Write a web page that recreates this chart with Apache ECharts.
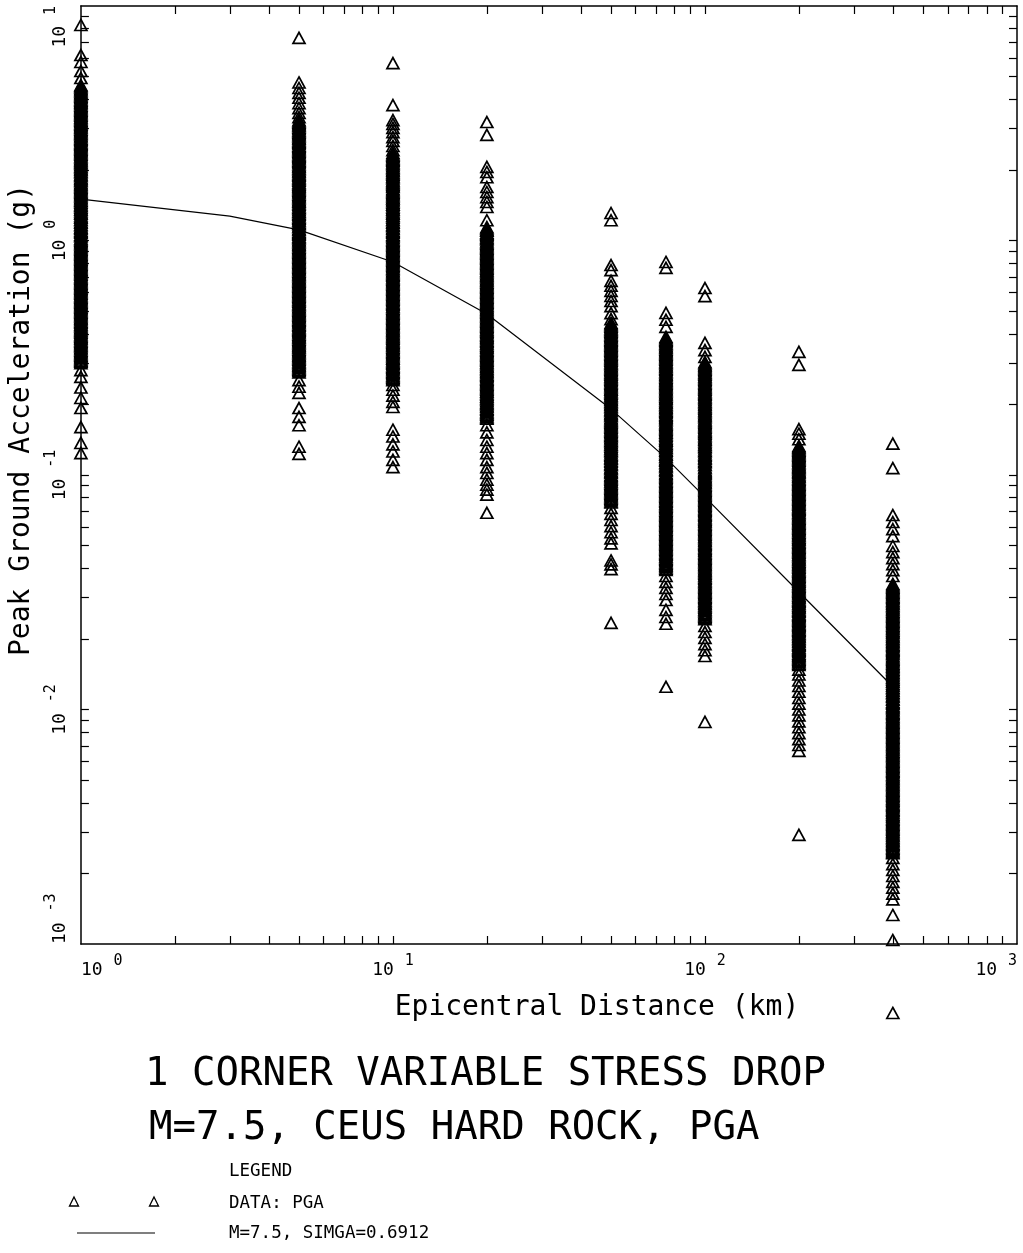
<!DOCTYPE html>
<html>
<head>
<meta charset="utf-8">
<script src="https://cdn.jsdelivr.net/npm/echarts@6/dist/echarts.min.js"></script>
<style>
  html, body { margin: 0; padding: 0; background: #fff; }
  #chart { width: 1023px; height: 1253px; }
</style>
</head>
<body>
<div id="chart"></div>
<script>
// Epicentral distances (km) of the simulated stations
const distances = [1, 5, 10, 20, 50, 75, 100, 200, 400];

// Simulated peak ground acceleration (g) at each distance
const pga1km = [8.30, 6.18, 5.77, 5.28, 4.93,
  4.60, 4.49, 4.38, 4.26, 4.16, 4.05, 3.95, 3.86, 3.76, 3.67, 3.58, 3.49, 3.41, 3.32, 3.24, 3.16, 3.08, 3.01, 2.93, 2.86,
  2.79, 2.72, 2.66, 2.59, 2.53, 2.47, 2.41, 2.35, 2.29, 2.23, 2.18, 2.13, 2.07, 2.02, 1.97, 1.92, 1.88, 1.83, 1.79, 1.74,
  1.70, 1.66, 1.62, 1.58, 1.54, 1.50, 1.47, 1.43, 1.40, 1.36, 1.33, 1.30, 1.26, 1.23, 1.20, 1.17, 1.14, 1.12, 1.09, 1.06,
  1.04, 1.01, 0.985, 0.961, 0.937, 0.914, 0.892, 0.870, 0.849, 0.828, 0.808, 0.788, 0.769, 0.750, 0.732, 0.714, 0.696,
  0.679, 0.663, 0.646, 0.631, 0.615, 0.600, 0.585, 0.571, 0.557, 0.543, 0.530, 0.517, 0.504, 0.492, 0.480, 0.468, 0.457,
  0.446, 0.435, 0.424, 0.414, 0.404, 0.394, 0.384, 0.375, 0.366, 0.357, 0.348, 0.339, 0.331, 0.323, 0.315, 0.307, 0.300,
  4.55, 4.43, 4.32, 4.21, 4.10, 4.00, 3.90, 3.81, 3.71, 3.62, 3.53, 3.45, 3.36, 3.28, 3.20, 3.12, 3.04, 2.97, 2.90, 2.83,
  2.76, 2.69, 2.62, 2.56, 2.50, 2.44, 2.38, 2.32, 2.26, 2.20, 2.15, 2.10, 2.05, 2.00, 1.95, 1.90, 1.85, 1.81, 1.76, 1.72,
  1.68, 1.64, 1.60, 1.56, 1.52, 1.48, 1.45, 1.41, 1.38, 1.35, 1.31, 1.28, 1.25, 1.22, 1.19, 1.16, 1.13, 1.10, 1.08, 1.05,
  1.02, 0.997, 0.973, 0.949, 0.926, 0.903, 0.881, 0.860, 0.839, 0.818, 0.798, 0.779, 0.760, 0.741, 0.723, 0.705, 0.688,
  0.671, 0.655, 0.639, 0.623, 0.608, 0.593, 0.578, 0.564, 0.550, 0.537, 0.524, 0.511, 0.498, 0.486, 0.474, 0.463, 0.451,
  0.440, 0.430, 0.419, 0.409, 0.399, 0.389, 0.380, 0.370, 0.361, 0.353, 0.344, 0.335, 0.327, 0.319, 0.311, 0.304,
  0.280, 0.262, 0.236, 0.213, 0.193, 0.160, 0.137, 0.124];

const pga5km = [7.31, 4.72, 4.47, 4.26, 4.06, 3.85, 3.67, 3.50, 3.36,
  3.26, 3.18, 3.10, 3.03, 2.95, 2.88, 2.81, 2.74, 2.67, 2.61, 2.54, 2.48, 2.42, 2.36, 2.30, 2.25, 2.19, 2.14, 2.08, 2.03,
  1.98, 1.93, 1.89, 1.84, 1.80, 1.75, 1.71, 1.67, 1.63, 1.59, 1.55, 1.51, 1.47, 1.44, 1.40, 1.37, 1.33, 1.30, 1.27, 1.24,
  1.21, 1.18, 1.15, 1.12, 1.09, 1.07, 1.04, 1.02, 0.993, 0.968, 0.945, 0.921, 0.899, 0.877, 0.855, 0.834, 0.814, 0.794,
  0.775, 0.756, 0.737, 0.719, 0.702, 0.684, 0.668, 0.651, 0.636, 0.620, 0.605, 0.590, 0.576, 0.561, 0.548, 0.534, 0.521,
  0.508, 0.496, 0.484, 0.472, 0.460, 0.449, 0.438, 0.427, 0.417, 0.407, 0.397, 0.387, 0.378, 0.368, 0.359, 0.351, 0.342,
  0.334, 0.325, 0.318, 0.310, 0.302, 0.295, 0.288, 0.281, 0.274,
  3.22, 3.14, 3.07, 2.99, 2.92, 2.85, 2.78, 2.71, 2.64, 2.58, 2.51, 2.45, 2.39, 2.33, 2.28, 2.22, 2.17, 2.11, 2.06, 2.01,
  1.96, 1.91, 1.86, 1.82, 1.77, 1.73, 1.69, 1.65, 1.61, 1.57, 1.53, 1.49, 1.46, 1.42, 1.38, 1.35, 1.32, 1.29, 1.25, 1.22,
  1.19, 1.17, 1.14, 1.11, 1.08, 1.06, 1.03, 1.005, 0.981, 0.957, 0.933, 0.910, 0.888, 0.866, 0.845, 0.824, 0.804, 0.785,
  0.765, 0.747, 0.728, 0.711, 0.693, 0.676, 0.660, 0.644, 0.628, 0.613, 0.598, 0.583, 0.569, 0.555, 0.541, 0.528, 0.515,
  0.502, 0.490, 0.478, 0.466, 0.455, 0.444, 0.433, 0.422, 0.412, 0.402, 0.392, 0.383, 0.373, 0.364, 0.355, 0.347, 0.338,
  0.330, 0.322, 0.314, 0.306, 0.299, 0.292, 0.285, 0.278,
  0.254, 0.238, 0.224, 0.193, 0.177, 0.163, 0.132, 0.123];

const pga10km = [5.71, 3.78, 3.26, 3.14, 3.02, 2.90, 2.76, 2.66, 2.53, 2.43,
  2.36, 2.30, 2.24, 2.19, 2.13, 2.08, 2.03, 1.98, 1.93, 1.88, 1.84, 1.79, 1.75, 1.71, 1.66, 1.62, 1.58, 1.54, 1.51, 1.47,
  1.43, 1.40, 1.36, 1.33, 1.30, 1.27, 1.23, 1.20, 1.17, 1.15, 1.12, 1.09, 1.06, 1.04, 1.01, 0.987, 0.963, 0.939, 0.916,
  0.894, 0.872, 0.851, 0.830, 0.810, 0.790, 0.771, 0.752, 0.733, 0.715, 0.698, 0.681, 0.664, 0.648, 0.632, 0.617, 0.602,
  0.587, 0.573, 0.559, 0.545, 0.532, 0.519, 0.506, 0.494, 0.482, 0.470, 0.458, 0.447, 0.436, 0.426, 0.415, 0.405, 0.395,
  0.386, 0.376, 0.367, 0.358, 0.349, 0.341, 0.332, 0.324, 0.316, 0.309, 0.301, 0.294, 0.287, 0.280, 0.273, 0.266, 0.260,
  2.33, 2.27, 2.21, 2.16, 2.11, 2.05, 2.00, 1.95, 1.91, 1.86, 1.81, 1.77, 1.73, 1.69, 1.64, 1.60, 1.56, 1.52, 1.49, 1.45,
  1.42, 1.38, 1.35, 1.31, 1.28, 1.25, 1.22, 1.19, 1.16, 1.13, 1.10, 1.08, 1.05, 1.025, 0.999, 0.975, 0.951, 0.928, 0.905,
  0.883, 0.861, 0.840, 0.820, 0.800, 0.780, 0.761, 0.742, 0.724, 0.707, 0.689, 0.672, 0.656, 0.640, 0.624, 0.609, 0.594,
  0.580, 0.566, 0.552, 0.538, 0.525, 0.512, 0.500, 0.488, 0.476, 0.464, 0.453, 0.442, 0.431, 0.420, 0.410, 0.400, 0.390,
  0.381, 0.371, 0.362, 0.354, 0.345, 0.336, 0.328, 0.320, 0.313, 0.305, 0.298, 0.290, 0.283, 0.276, 0.270, 0.263, 0.257,
  0.254, 0.242, 0.231, 0.218, 0.205, 0.195, 0.156, 0.146, 0.135, 0.126, 0.116, 0.108];

const pga20km = [3.20, 2.82, 2.06, 1.96, 1.86, 1.69, 1.61, 1.53, 1.46, 1.39, 1.22,
  1.14, 1.11, 1.08, 1.06, 1.03, 1.01, 0.982, 0.958, 0.935, 0.912, 0.890, 0.868, 0.847, 0.826, 0.806, 0.786, 0.767, 0.748,
  0.730, 0.712, 0.695, 0.678, 0.661, 0.645, 0.629, 0.614, 0.599, 0.584, 0.570, 0.556, 0.543, 0.529, 0.516, 0.504, 0.492,
  0.480, 0.468, 0.456, 0.445, 0.434, 0.424, 0.413, 0.403, 0.393, 0.384, 0.374, 0.365, 0.356, 0.348, 0.339, 0.331, 0.323,
  0.315, 0.307, 0.300, 0.292, 0.285, 0.278, 0.272, 0.265, 0.258, 0.252, 0.246, 0.240, 0.234, 0.228, 0.223, 0.217, 0.212,
  0.207, 0.202, 0.197, 0.192, 0.187, 0.183, 0.178, 0.174,
  1.125, 1.10, 1.07, 1.045, 1.02, 0.994, 0.970, 0.946, 0.923, 0.901, 0.879, 0.857, 0.836, 0.816, 0.796, 0.777, 0.758,
  0.739, 0.721, 0.704, 0.686, 0.670, 0.653, 0.637, 0.622, 0.606, 0.592, 0.577, 0.563, 0.550, 0.536, 0.523, 0.510, 0.498,
  0.486, 0.474, 0.462, 0.451, 0.440, 0.429, 0.418, 0.408, 0.398, 0.388, 0.379, 0.370, 0.361, 0.352, 0.343, 0.335, 0.327,
  0.319, 0.311, 0.303, 0.296, 0.289, 0.282, 0.275, 0.268, 0.262, 0.255, 0.249, 0.243, 0.237, 0.231, 0.226, 0.220, 0.215,
  0.210, 0.204, 0.200, 0.195, 0.190, 0.185, 0.181, 0.176,
  0.163, 0.152, 0.141, 0.132, 0.124, 0.116, 0.108, 0.102, 0.0955, 0.0909, 0.0866, 0.0825, 0.0690];

const pga50km = [1.31, 1.22, 0.786, 0.748, 0.673, 0.641, 0.610, 0.580, 0.552, 0.525, 0.490, 0.462,
  0.445, 0.434, 0.423, 0.413, 0.403, 0.393, 0.383, 0.374, 0.365, 0.356, 0.347, 0.339, 0.330, 0.322, 0.314, 0.307, 0.299,
  0.292, 0.285, 0.278, 0.271, 0.264, 0.258, 0.252, 0.245, 0.239, 0.233, 0.228, 0.222, 0.217, 0.211, 0.206, 0.201, 0.196,
  0.191, 0.187, 0.182, 0.178, 0.173, 0.169, 0.165, 0.161, 0.157, 0.153, 0.149, 0.146, 0.142, 0.139, 0.135, 0.132, 0.129,
  0.126, 0.122, 0.119, 0.117, 0.114, 0.111, 0.108, 0.106, 0.103, 0.100, 0.0978, 0.0954, 0.0931, 0.0908, 0.0886, 0.0864,
  0.0843, 0.0822, 0.0802, 0.0782, 0.0763,
  0.440, 0.429, 0.418, 0.408, 0.398, 0.388, 0.378, 0.369, 0.360, 0.352, 0.343, 0.335, 0.326, 0.318, 0.311, 0.303, 0.296,
  0.288, 0.281, 0.274, 0.268, 0.261, 0.255, 0.248, 0.242, 0.236, 0.231, 0.225, 0.219, 0.214, 0.209, 0.204, 0.199, 0.194,
  0.189, 0.184, 0.180, 0.175, 0.171, 0.167, 0.163, 0.159, 0.155, 0.151, 0.147, 0.144, 0.140, 0.137, 0.134, 0.130, 0.127,
  0.124, 0.121, 0.118, 0.115, 0.112, 0.110, 0.107, 0.104, 0.102, 0.0990, 0.0966, 0.0942, 0.0919, 0.0897, 0.0875, 0.0853,
  0.0832, 0.0812, 0.0792, 0.0772,
  0.0724, 0.0683, 0.0643, 0.0605, 0.0570, 0.0537, 0.0511, 0.0432, 0.0416, 0.0397, 0.0234];

const pga75km = [0.810, 0.764, 0.491, 0.459, 0.428,
  0.388, 0.378, 0.369, 0.360, 0.351, 0.342, 0.334, 0.326, 0.318, 0.310, 0.302, 0.295, 0.288, 0.281, 0.274, 0.267, 0.260,
  0.254, 0.248, 0.242, 0.236, 0.230, 0.224, 0.219, 0.213, 0.208, 0.203, 0.198, 0.193, 0.188, 0.184, 0.179, 0.175, 0.171,
  0.166, 0.162, 0.158, 0.154, 0.151, 0.147, 0.143, 0.140, 0.136, 0.133, 0.130, 0.127, 0.123, 0.120, 0.117, 0.115, 0.112,
  0.109, 0.106, 0.104, 0.101, 0.0985, 0.0961, 0.0937, 0.0914, 0.0892, 0.0870, 0.0849, 0.0828, 0.0808, 0.0788, 0.0769,
  0.0750, 0.0732, 0.0714, 0.0696, 0.0679, 0.0663, 0.0646, 0.0631, 0.0615, 0.0600, 0.0585, 0.0571, 0.0557, 0.0543, 0.0530,
  0.0517, 0.0504, 0.0492, 0.0480, 0.0468, 0.0457, 0.0446, 0.0435, 0.0424, 0.0414, 0.0404, 0.0394,
  0.383, 0.374, 0.364, 0.355, 0.347, 0.338, 0.330, 0.322, 0.314, 0.306, 0.299, 0.291, 0.284, 0.277, 0.270, 0.264, 0.257,
  0.251, 0.245, 0.239, 0.233, 0.227, 0.221, 0.216, 0.211, 0.205, 0.200, 0.195, 0.191, 0.186, 0.181, 0.177, 0.173, 0.168,
  0.164, 0.160, 0.156, 0.152, 0.149, 0.145, 0.141, 0.138, 0.135, 0.131, 0.128, 0.125, 0.122, 0.119, 0.116, 0.113, 0.110,
  0.108, 0.105, 0.102, 0.0997, 0.0973, 0.0949, 0.0926, 0.0903, 0.0881, 0.0859, 0.0838, 0.0818, 0.0798, 0.0778, 0.0759,
  0.0741, 0.0723, 0.0705, 0.0688, 0.0671, 0.0654, 0.0638, 0.0623, 0.0608, 0.0593, 0.0578, 0.0564, 0.0550, 0.0537, 0.0523,
  0.0511, 0.0498, 0.0486, 0.0474, 0.0462, 0.0451, 0.0440, 0.0430, 0.0419, 0.0409, 0.0399,
  0.0371, 0.0350, 0.0330, 0.0311, 0.0293, 0.0266, 0.0248, 0.0232, 0.0125];

const pga100km = [0.627, 0.579, 0.366, 0.341, 0.319,
  0.303, 0.295, 0.288, 0.281, 0.274, 0.268, 0.261, 0.255, 0.248, 0.242, 0.236, 0.231, 0.225, 0.220, 0.214, 0.209, 0.204,
  0.199, 0.194, 0.189, 0.185, 0.180, 0.176, 0.171, 0.167, 0.163, 0.159, 0.155, 0.152, 0.148, 0.144, 0.141, 0.137, 0.134,
  0.131, 0.127, 0.124, 0.121, 0.118, 0.115, 0.113, 0.110, 0.107, 0.104, 0.102, 0.0995, 0.0970, 0.0947, 0.0924, 0.0901,
  0.0879, 0.0858, 0.0837, 0.0816, 0.0796, 0.0777, 0.0758, 0.0739, 0.0721, 0.0704, 0.0686, 0.0670, 0.0653, 0.0637, 0.0622,
  0.0607, 0.0592, 0.0577, 0.0563, 0.0549, 0.0536, 0.0523, 0.0510, 0.0498, 0.0485, 0.0474, 0.0462, 0.0451, 0.0440, 0.0429,
  0.0418, 0.0408, 0.0398, 0.0389, 0.0379, 0.0370, 0.0361, 0.0352, 0.0343, 0.0335, 0.0327, 0.0319, 0.0311, 0.0303, 0.0296,
  0.0289, 0.0282, 0.0275, 0.0268, 0.0262, 0.0255, 0.0249, 0.0243,
  0.299, 0.292, 0.285, 0.278, 0.271, 0.264, 0.258, 0.252, 0.245, 0.239, 0.234, 0.228, 0.222, 0.217, 0.212, 0.206, 0.201,
  0.196, 0.192, 0.187, 0.182, 0.178, 0.173, 0.169, 0.165, 0.161, 0.157, 0.153, 0.150, 0.146, 0.142, 0.139, 0.135, 0.132,
  0.129, 0.126, 0.122, 0.119, 0.117, 0.114, 0.111, 0.108, 0.105, 0.103, 0.101, 0.0982, 0.0958, 0.0935, 0.0912, 0.0890,
  0.0868, 0.0847, 0.0826, 0.0806, 0.0787, 0.0767, 0.0749, 0.0730, 0.0712, 0.0695, 0.0678, 0.0661, 0.0645, 0.0630, 0.0614,
  0.0599, 0.0584, 0.0570, 0.0556, 0.0543, 0.0529, 0.0516, 0.0504, 0.0491, 0.0479, 0.0468, 0.0456, 0.0445, 0.0434, 0.0424,
  0.0413, 0.0403, 0.0393, 0.0384, 0.0374, 0.0365, 0.0356, 0.0348, 0.0339, 0.0331, 0.0323, 0.0315, 0.0307, 0.0300, 0.0292,
  0.0285, 0.0278, 0.0272, 0.0265, 0.0258, 0.0252, 0.0246,
  0.0227, 0.0214, 0.0202, 0.0190, 0.0179, 0.0169, 0.00885];

const pga200km = [0.335, 0.295, 0.157, 0.150, 0.142,
  0.133, 0.130, 0.127, 0.124, 0.121, 0.118, 0.115, 0.112, 0.109, 0.107, 0.104, 0.102, 0.0992, 0.0968, 0.0944, 0.0921,
  0.0899, 0.0877, 0.0855, 0.0834, 0.0814, 0.0794, 0.0775, 0.0756, 0.0737, 0.0719, 0.0702, 0.0685, 0.0668, 0.0651, 0.0636,
  0.0620, 0.0605, 0.0590, 0.0576, 0.0561, 0.0548, 0.0534, 0.0521, 0.0508, 0.0496, 0.0484, 0.0472, 0.0460, 0.0449, 0.0438,
  0.0427, 0.0417, 0.0407, 0.0397, 0.0387, 0.0378, 0.0368, 0.0359, 0.0351, 0.0342, 0.0334, 0.0326, 0.0318, 0.0310, 0.0302,
  0.0295, 0.0288, 0.0281, 0.0274, 0.0267, 0.0261, 0.0254, 0.0248, 0.0242, 0.0236, 0.0230, 0.0225, 0.0219, 0.0214, 0.0209,
  0.0204, 0.0199, 0.0194, 0.0189, 0.0184, 0.0180, 0.0176, 0.0171, 0.0167, 0.0163, 0.0159, 0.0155,
  0.1315, 0.1285, 0.1255, 0.1225, 0.1195, 0.1165, 0.1135, 0.1105, 0.108, 0.1055, 0.103, 0.1005, 0.0980, 0.0956, 0.0932,
  0.0910, 0.0888, 0.0866, 0.0845, 0.0824, 0.0804, 0.0785, 0.0765, 0.0747, 0.0728, 0.0711, 0.0693, 0.0676, 0.0660, 0.0644,
  0.0628, 0.0612, 0.0597, 0.0583, 0.0568, 0.0554, 0.0541, 0.0528, 0.0515, 0.0502, 0.0490, 0.0478, 0.0466, 0.0455, 0.0443,
  0.0433, 0.0422, 0.0412, 0.0402, 0.0392, 0.0382, 0.0373, 0.0364, 0.0355, 0.0346, 0.0338, 0.0330, 0.0322, 0.0314, 0.0306,
  0.0299, 0.0291, 0.0284, 0.0277, 0.0271, 0.0264, 0.0257, 0.0251, 0.0245, 0.0239, 0.0233, 0.0228, 0.0222, 0.0217, 0.0211,
  0.0206, 0.0201, 0.0196, 0.0191, 0.0187, 0.0182, 0.0178, 0.0173, 0.0169, 0.0165, 0.0161, 0.0157,
  0.0148, 0.0141, 0.0133, 0.0126, 0.0119, 0.0112, 0.0106, 0.0100, 0.00944, 0.00890, 0.00840, 0.00793, 0.00748, 0.00706,
  0.00666, 0.00292];

const pga400km = [0.136, 0.107, 0.0675, 0.0630, 0.0588, 0.0549, 0.0498, 0.0469, 0.0442, 0.0417, 0.0393, 0.0371,
  0.0343, 0.0335, 0.0327, 0.0319, 0.0311, 0.0303, 0.0296, 0.0289, 0.0282, 0.0275, 0.0268, 0.0261, 0.0255, 0.0249, 0.0243,
  0.0237, 0.0231, 0.0225, 0.0220, 0.0214, 0.0209, 0.0204, 0.0199, 0.0194, 0.0189, 0.0185, 0.0180, 0.0176, 0.0172, 0.0167,
  0.0163, 0.0159, 0.0155, 0.0152, 0.0148, 0.0144, 0.0141, 0.0137, 0.0134, 0.0131, 0.0127, 0.0124, 0.0121, 0.0118, 0.0115,
  0.0113, 0.0110, 0.0107, 0.0104, 0.0102, 0.00995, 0.00970, 0.00947, 0.00924, 0.00901, 0.00879, 0.00858, 0.00837,
  0.00816, 0.00796, 0.00777, 0.00758, 0.00739, 0.00721, 0.00704, 0.00686, 0.00670, 0.00653, 0.00637, 0.00622, 0.00607,
  0.00592, 0.00577, 0.00563, 0.00549, 0.00536, 0.00523, 0.00510, 0.00498, 0.00485, 0.00474, 0.00462, 0.00451, 0.00440,
  0.00429, 0.00418, 0.00408, 0.00398, 0.00389, 0.00379, 0.00370, 0.00361, 0.00352, 0.00343, 0.00335, 0.00327, 0.00319,
  0.00311, 0.00303, 0.00296, 0.00289, 0.00282, 0.00275, 0.00268, 0.00262, 0.00255, 0.00249, 0.00244,
  0.0339, 0.0331, 0.0323, 0.0315, 0.0307, 0.0300, 0.0292, 0.0285, 0.0278, 0.0271, 0.0265, 0.0258, 0.0252, 0.0246, 0.0240,
  0.0234, 0.0228, 0.0222, 0.0217, 0.0212, 0.0206, 0.0201, 0.0196, 0.0192, 0.0187, 0.0182, 0.0178, 0.0174, 0.0169, 0.0165,
  0.0161, 0.0157, 0.0153, 0.0150, 0.0146, 0.0143, 0.0139, 0.0136, 0.0132, 0.0129, 0.0126, 0.0123, 0.0120, 0.0117, 0.0114,
  0.0111, 0.0108, 0.0106, 0.0103, 0.0101, 0.00983, 0.00959, 0.00935, 0.00912, 0.00890, 0.00868, 0.00847, 0.00826,
  0.00806, 0.00787, 0.00767, 0.00749, 0.00730, 0.00712, 0.00695, 0.00678, 0.00661, 0.00645, 0.00630, 0.00614, 0.00599,
  0.00584, 0.00570, 0.00556, 0.00543, 0.00529, 0.00516, 0.00504, 0.00491, 0.00479, 0.00468, 0.00456, 0.00445, 0.00434,
  0.00424, 0.00413, 0.00403, 0.00393, 0.00384, 0.00374, 0.00365, 0.00356, 0.00348, 0.00339, 0.00331, 0.00323, 0.00315,
  0.00307, 0.00300, 0.00292, 0.00285, 0.00278, 0.00272, 0.00265, 0.00258, 0.00252, 0.00246,
  0.00233, 0.00219, 0.00207, 0.00195, 0.00184, 0.00174, 0.00164, 0.00155, 0.00133, 0.00104, 0.000508];

const pgaColumns = [pga1km, pga5km, pga10km, pga20km, pga50km, pga75km, pga100km, pga200km, pga400km];

// Median attenuation curve, M=7.5
const curveDistance = [1, 3, 5, 10, 20, 50, 75, 100, 200, 400];
const curvePga = [1.50, 1.27, 1.11, 0.81, 0.486, 0.191, 0.118, 0.0805, 0.0317, 0.0125];

// Tick positions (every integer multiple inside each decade)
const xTickValues = [2, 3, 4, 5, 6, 7, 8, 9, 10, 20, 30, 40, 50, 60, 70, 80, 90, 100,
  200, 300, 400, 500, 600, 700, 800, 900];
const yTickValues = [0.002, 0.003, 0.004, 0.005, 0.006, 0.007, 0.008, 0.009, 0.01,
  0.02, 0.03, 0.04, 0.05, 0.06, 0.07, 0.08, 0.09, 0.1,
  0.2, 0.3, 0.4, 0.5, 0.6, 0.7, 0.8, 0.9, 1,
  2, 3, 4, 5, 6, 7, 8, 9];

const xAxisTitle = 'Epicentral Distance (km)';
const yAxisTitle = 'Peak Ground Acceleration (g)';
const titleLines = ['1 CORNER VARIABLE STRESS DROP', 'M=7.5, CEUS HARD ROCK, PGA'];
const legendTexts = ['LEGEND', 'DATA: PGA', 'M=7.5, SIMGA=0.6912'];

const MONO = '"DejaVu Sans Mono", "Liberation Mono", monospace';

const scatterData = [];
distances.forEach(function (d, i) {
  pgaColumns[i].forEach(function (g) { scatterData.push([d, g]); });
});
const curveData = curveDistance.map(function (d, i) { return [d, curvePga[i]]; });

function powerLabel(v) {
  const e = Math.round(Math.log10(v));
  return '{b|10 }{e|' + e + '}';
}
const powerRich = {
  b: { fontFamily: MONO, fontSize: 18, color: '#000', lineHeight: 32 },
  e: { fontFamily: MONO, fontSize: 15, color: '#000', lineHeight: 14, verticalAlign: 'top' }
};

const frameLine = { show: true, onZero: false, lineStyle: { color: '#000', width: 1.5 } };
function tickStyle(values) {
  return { show: true, inside: true, length: 8, customValues: values,
           lineStyle: { color: '#000', width: 1.2 } };
}

const chart = echarts.init(document.getElementById('chart'), null, { renderer: 'canvas' });

chart.setOption({
  animation: false,
  backgroundColor: '#fff',
  grid: { left: 78, right: 6, top: 6, bottom: 309, containLabel: false },
  xAxis: [{
    type: 'log', logBase: 10, min: 1, max: 1000, position: 'bottom',
    axisLine: frameLine,
    axisTick: tickStyle(xTickValues),
    splitLine: { show: false },
    axisLabel: {
      show: true, margin: 10, formatter: powerLabel, rich: powerRich,
      alignMinLabel: 'left', alignMaxLabel: 'right', showMinLabel: true, showMaxLabel: true
    },
    name: xAxisTitle, nameLocation: 'middle', nameGap: 50,
    nameTextStyle: { fontFamily: MONO, fontSize: 28, color: '#000', padding: [0, 0, 0, 96] }
  }, {
    type: 'log', logBase: 10, min: 1, max: 1000, position: 'top',
    axisLine: frameLine,
    axisTick: tickStyle(xTickValues),
    splitLine: { show: false },
    axisLabel: { show: false }
  }],
  yAxis: [{
    type: 'log', logBase: 10, min: 0.001, max: 10, position: 'left',
    axisLine: frameLine,
    axisTick: tickStyle(yTickValues),
    splitLine: { show: false },
    axisLabel: {
      show: true, rotate: 90, margin: 5, formatter: powerLabel, rich: powerRich,
      alignMinLabel: 'left', alignMaxLabel: 'right', showMinLabel: true, showMaxLabel: true
    },
    name: yAxisTitle, nameLocation: 'middle', nameGap: 43,
    nameTextStyle: { fontFamily: MONO, fontSize: 28, color: '#000', padding: [0, 0, 0, 110] }
  }, {
    type: 'log', logBase: 10, min: 0.001, max: 10, position: 'right',
    axisLine: frameLine,
    axisTick: tickStyle(yTickValues),
    splitLine: { show: false },
    axisLabel: { show: false }
  }],
  series: [{
    name: 'DATA: PGA',
    type: 'scatter',
    xAxisIndex: 0, yAxisIndex: 0,
    data: scatterData,
    symbol: 'triangle',
    symbolSize: [12, 11],
    clip: false,
    silent: true,
    large: false,
    progressive: 0,
    itemStyle: { color: 'rgba(0,0,0,0)', borderColor: '#000', borderWidth: 1.7, opacity: 1 },
    emphasis: { disabled: true }
  }, {
    name: 'M=7.5, SIMGA=0.6912',
    type: 'line',
    xAxisIndex: 0, yAxisIndex: 0,
    data: curveData,
    showSymbol: false, symbol: 'none',
    clip: false, silent: true,
    lineStyle: { color: '#000', width: 1.2 },
    emphasis: { disabled: true }
  }],
  graphic: [
    { type: 'text', x: 145, y: 1075, silent: true,
      style: { text: titleLines[0], font: '39px ' + MONO, fill: '#000', align: 'left', verticalAlign: 'middle' } },
    { type: 'text', x: 149, y: 1129, silent: true,
      style: { text: titleLines[1], font: '39px ' + MONO, fill: '#000', align: 'left', verticalAlign: 'middle' } },
    { type: 'text', x: 229, y: 1171, silent: true,
      style: { text: legendTexts[0], font: '17.5px ' + MONO, fill: '#000', align: 'left', verticalAlign: 'middle' } },
    { type: 'text', x: 229, y: 1203, silent: true,
      style: { text: legendTexts[1], font: '17.5px ' + MONO, fill: '#000', align: 'left', verticalAlign: 'middle' } },
    { type: 'text', x: 229, y: 1233, silent: true,
      style: { text: legendTexts[2], font: '17.5px ' + MONO, fill: '#000', align: 'left', verticalAlign: 'middle' } },
    { type: 'polygon', silent: true, shape: { points: [[74, 1197], [78.5, 1206], [69.5, 1206]] },
      style: { fill: 'none', stroke: '#000', lineWidth: 1.3 } },
    { type: 'polygon', silent: true, shape: { points: [[154, 1197], [158.5, 1206], [149.5, 1206]] },
      style: { fill: 'none', stroke: '#000', lineWidth: 1.3 } },
    { type: 'line', silent: true, shape: { x1: 77, y1: 1233, x2: 155, y2: 1233 },
      style: { stroke: '#000', lineWidth: 1.2 } }
  ]
});
</script>
</body>
</html>
